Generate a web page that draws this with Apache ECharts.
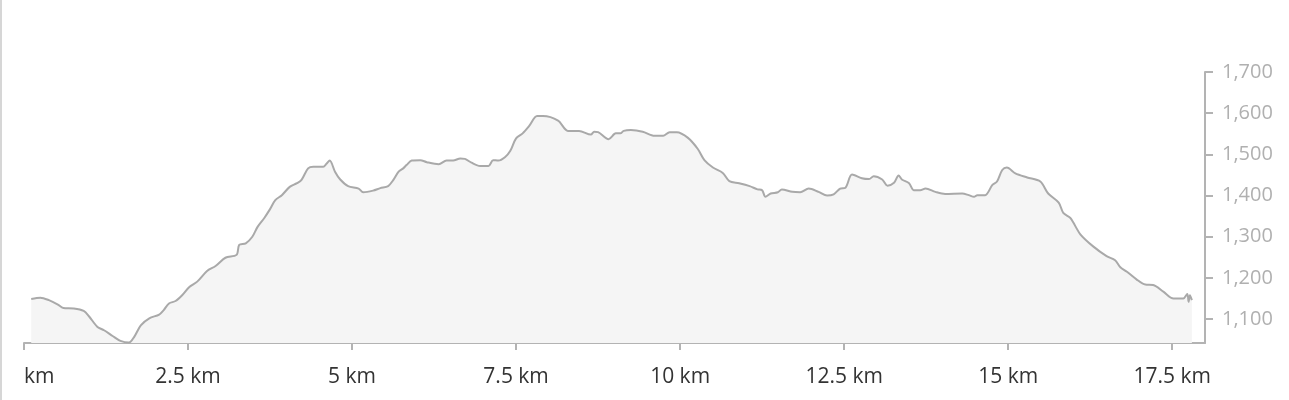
<!DOCTYPE html>
<html>
<head>
<meta charset="utf-8">
<script src="https://cdn.jsdelivr.net/npm/echarts@6/dist/echarts.min.js"></script>
<style>
html,body{margin:0;padding:0;background:#fff;}
#c{width:1289px;height:400px;}
</style>
</head>
<body>
<div id="c"></div>
<script>
// distance along route (km)
var distanceKm = [0.11,0.25,0.38,0.51,0.60,0.76,0.91,0.99,1.12,1.22,1.35,1.47,1.60,1.68,1.78,1.91,2.06,2.13,2.21,2.31,2.41,2.52,2.64,2.79,2.92,3.07,3.24,3.28,3.38,3.48,3.56,3.66,3.75,3.83,3.93,4.05,4.16,4.23,4.33,4.41,4.56,4.61,4.66,4.74,4.82,4.94,5.10,5.17,5.32,5.43,5.55,5.63,5.71,5.78,5.83,5.91,6.04,6.14,6.32,6.44,6.54,6.65,6.72,6.82,6.95,7.08,7.15,7.23,7.33,7.41,7.50,7.60,7.70,7.82,7.91,8.14,8.29,8.46,8.64,8.69,8.75,8.91,9.02,9.09,9.14,9.25,9.43,9.61,9.74,9.84,9.95,10.12,10.27,10.37,10.50,10.65,10.75,10.90,11.06,11.18,11.25,11.30,11.38,11.49,11.55,11.71,11.83,11.96,12.11,12.24,12.34,12.44,12.52,12.62,12.77,12.88,12.95,13.08,13.16,13.26,13.33,13.38,13.49,13.56,13.66,13.74,13.89,14.04,14.30,14.40,14.48,14.53,14.65,14.76,14.83,14.91,14.98,15.11,15.29,15.49,15.61,15.77,15.84,15.95,16.10,16.30,16.50,16.63,16.71,16.81,16.96,17.09,17.21,17.37,17.52,17.67,17.73,17.75,17.77,17.80];
// elevation (m)
var elevationM = [1149,1152,1146,1136,1127,1126,1120,1107,1081,1073,1059,1047,1043,1057,1085,1102,1111,1122,1138,1144,1158,1178,1191,1217,1229,1249,1256,1280,1284,1300,1324,1345,1367,1389,1401,1421,1430,1438,1466,1470,1470,1477,1485,1458,1439,1423,1417,1408,1412,1418,1423,1438,1458,1466,1474,1485,1486,1481,1476,1485,1485,1490,1489,1480,1472,1472,1486,1485,1493,1508,1539,1551,1569,1593,1593,1582,1557,1557,1548,1555,1554,1537,1551,1551,1557,1559,1555,1545,1545,1554,1554,1540,1513,1486,1468,1455,1435,1430,1423,1415,1413,1397,1405,1408,1415,1409,1408,1417,1409,1400,1403,1417,1419,1451,1442,1440,1447,1439,1424,1431,1449,1439,1430,1413,1413,1417,1409,1404,1405,1401,1397,1401,1401,1426,1434,1462,1468,1454,1444,1434,1405,1383,1358,1345,1306,1276,1253,1243,1226,1215,1196,1184,1183,1166,1150,1150,1161,1142,1158,1146];
var xTicks = [0,2.5,5,7.5,10,12.5,15,17.5];
var yTicks = [1100,1200,1300,1400,1500,1600,1700];

var pts = distanceKm.map(function(d,i){return [d, elevationM[i]];});

var chart = echarts.init(document.getElementById('c'), null, {renderer:'canvas'});
chart.setOption({
  animation:false,
  backgroundColor:'#ffffff',
  graphic:[{type:'rect',left:0,top:0,shape:{width:2,height:400},style:{fill:'#d6d6d6'},silent:true}],
  grid:{left:24,right:84,top:72,bottom:57},
  xAxis:{
    type:'value',min:0,max:18,
    axisLine:{show:true,onZero:false,lineStyle:{color:'#b3b3b3',width:2}},
    axisTick:{show:true,length:7,lineStyle:{color:'#b3b3b3',width:2},customValues:xTicks},
    splitLine:{show:false},
    axisLabel:{
      customValues:xTicks,
      margin:24,
      color:'#333333',
      fontFamily:'Open Sans',
      fontSize:21,
      alignMinLabel:'left',
      formatter:function(v){return v===0?'km':(v+' km');}
    }
  },
  yAxis:{
    type:'value',position:'right',min:1042,max:1700,
    axisLine:{show:true,onZero:false,lineStyle:{color:'#b3b3b3',width:2}},
    axisTick:{show:true,length:8,lineStyle:{color:'#b3b3b3',width:2},customValues:yTicks},
    splitLine:{show:false},
    axisLabel:{
      customValues:yTicks,
      margin:17,
      color:'#b0b0b0',
      fontFamily:'Open Sans',
      fontSize:20,
      formatter:function(v){return v.toLocaleString('en-US');}
    }
  },
  series:[{
    type:'line',
    data:pts,
    showSymbol:false,
    smooth:0.3,
    lineStyle:{color:'#a9a9a9',width:2},
    areaStyle:{color:'#f5f5f5',opacity:1,origin:'start'}
  }]
});
</script>
</body>
</html>
